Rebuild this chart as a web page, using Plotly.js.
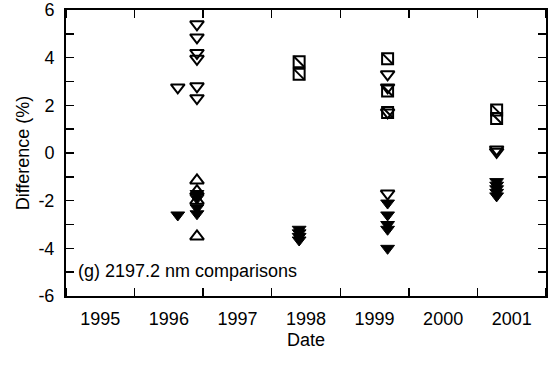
<!DOCTYPE html>
<html><head><meta charset="utf-8">
<script src="https://cdn.plot.ly/plotly-3.0.1.min.js"></script>
<style>body{margin:0;background:#fff}#c{width:555px;height:367px}</style>
</head><body><div id="c"></div>
<script>
const yearLabels = ['1995','1996','1997','1998','1999','2000','2001'];
const labelPos = [1995.5,1996.5,1997.5,1998.5,1999.5,2000.5,2001.5];
const yTickVals = [-6,-4,-2,0,2,4,6];
const yTickText = ['-6','-4','-2','0','2','4','6'];

const openDownX = [1996.91,1996.91,1996.91,1996.91,1996.91,1996.91,1996.63,1999.69,1999.69,1999.69,1999.69,2001.28,2001.28];
const openDownY = [5.4,4.85,4.2,3.95,2.8,2.3,2.75,3.3,2.75,1.7,-1.7,0.15,0.05];

const filledDownX = [1996.63,1996.91,1996.91,1996.91,1996.91,1998.40,1998.40,1998.40,1998.40,1999.69,1999.69,1999.69,1999.69,1999.69,2001.28,2001.28,2001.28,2001.28,2001.28];
const filledDownY = [-2.6,-1.7,-1.9,-2.3,-2.55,-3.2,-3.35,-3.5,-3.65,-2.1,-2.6,-3.0,-3.2,-4.0,-1.2,-1.35,-1.5,-1.65,-1.8];

const openUpX = [1996.91,1996.91,1996.91,1996.91];
const openUpY = [-1.15,-1.6,-2.0,-3.5];

const squareX = [1998.40,1998.40,1999.69,1999.69,1999.69,2001.28,2001.28];
const squareY = [3.83,3.3,3.95,2.6,1.7,1.8,1.45];

const font = {family:'Liberation Sans, Arial, Helvetica, sans-serif', size:18, color:'#000'};

const traces = [
  {x:openDownX, y:openDownY, mode:'markers', type:'scatter',
   marker:{symbol:'triangle-down-open', size:12, color:'#000', line:{width:2, color:'#000'}}},
  {x:filledDownX, y:filledDownY, mode:'markers', type:'scatter',
   marker:{symbol:'triangle-down', size:12, color:'#000', line:{width:1, color:'#000'}}},
  {x:openUpX, y:openUpY, mode:'markers', type:'scatter',
   marker:{symbol:'triangle-up-open', size:12, color:'#000', line:{width:2, color:'#000'}}},
  {x:squareX, y:squareY, mode:'markers', type:'scatter',
   marker:{symbol:'square-open', size:11, color:'#000', line:{width:2, color:'#000'}}},
  {x:squareX, y:squareY, mode:'markers', type:'scatter',
   marker:{symbol:'line-nw', size:11, color:'#000', line:{width:2, color:'#000'}}}
];

const layout = {
  width:555, height:367,
  margin:{l:66, r:9, t:10, b:71},
  paper_bgcolor:'#fff', plot_bgcolor:'#fff',
  showlegend:false,
  font:font,
  xaxis:{
    range:[1995,2002], showgrid:false, zeroline:false,
    showline:true, linewidth:2, linecolor:'#000', mirror:'ticks',
    tickmode:'array', tickvals:labelPos, ticktext:yearLabels, ticks:'',
    tickfont:font, ticklabelstandoff:5,
    minor:{tickmode:'linear', tick0:1995, dtick:1, ticks:'inside', ticklen:8, tickwidth:1.5, tickcolor:'#000', showgrid:false},
    title:{text:'Date', font:font, standoff:6}
  },
  yaxis:{
    range:[-6,6], showgrid:false, zeroline:false,
    showline:true, linewidth:2, linecolor:'#000', mirror:'ticks',
    tickmode:'array', tickvals:yTickVals, ticktext:yTickText,
    ticks:'inside', ticklen:8, tickwidth:1.5, tickcolor:'#000',
    tickfont:font, ticklabelstandoff:6, ticklabeloverflow:'allow',
    minor:{tickmode:'linear', tick0:-6, dtick:1, ticks:'inside', ticklen:8, tickwidth:1.5, tickcolor:'#000', showgrid:false},
    title:{text:'Difference (%)', font:font, standoff:4}
  },
  annotations:[{
    xref:'paper', yref:'paper', x:0.02, y:0.087, xanchor:'left', yanchor:'middle',
    text:'(g) 2197.2 nm comparisons', showarrow:false, font:font
  }]
};

Plotly.newPlot('c', traces, layout, {displayModeBar:false, staticPlot:true});
</script></body></html>
